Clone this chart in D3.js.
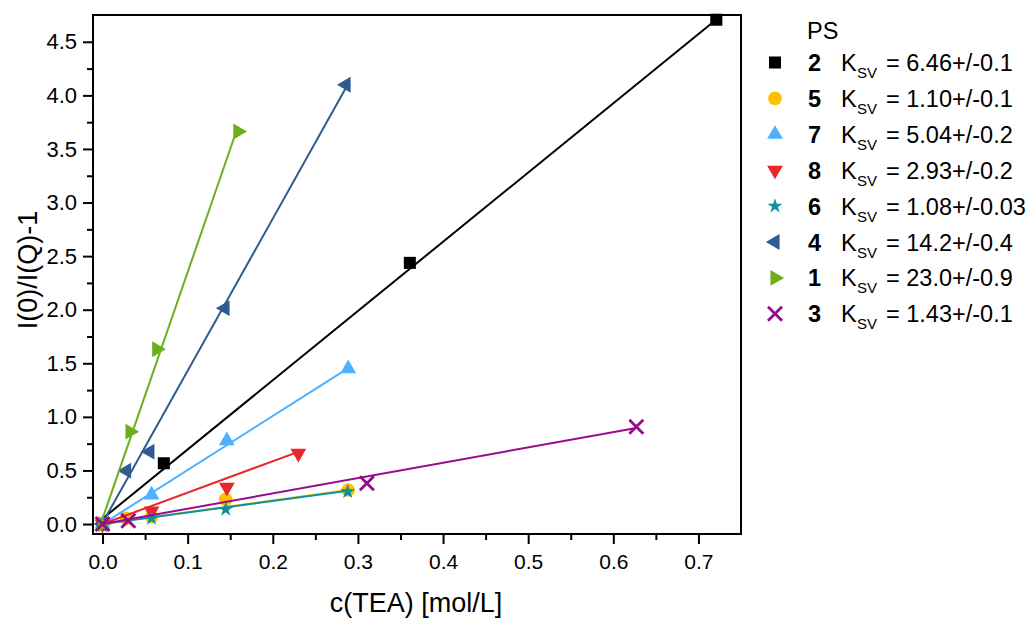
<!DOCTYPE html>
<html>
<head>
<meta charset="utf-8">
<script src="https://cdn.jsdelivr.net/npm/d3@7"></script>
<style>
  body { margin: 0; background: #fff; }
  svg { font-family: "Liberation Sans", Arial, Helvetica, sans-serif; }
</style>
</head>
<body>
<svg id="chart" width="1035" height="619"></svg>
<script>
// Stern–Volmer data: I(0)/I(Q)-1 against TEA concentration for each PS
const seriesIds   = ["2", "5", "7", "8", "6", "4", "1", "3"];
const ksvValues   = ["6.46", "1.10", "5.04", "2.93", "1.08", "14.2", "23.0", "1.43"];
const ksvErrors   = ["0.1", "0.1", "0.2", "0.2", "0.03", "0.4", "0.9", "0.1"];
const intercepts  = [0.05, 0, 0, 0, 0, 0.01, 0.05, 0];

const conc2 = [0, 0.072, 0.361, 0.721];
const ratio2 = [0, 0.567, 2.437, 4.706];
const conc5 = [0, 0.028, 0.0576, 0.1447, 0.2886];
const ratio5 = [0, 0.053, 0.068, 0.230, 0.317];
const conc7 = [0, 0.0576, 0.146, 0.2886];
const ratio7 = [0, 0.271, 0.778, 1.450];
const conc8 = [0, 0.0576, 0.146, 0.230];
const ratio8 = [0, 0.121, 0.342, 0.660];
const conc6 = [0, 0.0576, 0.1447, 0.288];
const ratio6 = [0, 0.053, 0.137, 0.302];
const conc4 = [0, 0.0282, 0.0556, 0.1439, 0.2861];
const ratio4 = [0, 0.498, 0.675, 2.014, 4.099];
const conc1 = [0, 0.0323, 0.0637, 0.159];
const ratio1 = [0, 0.862, 1.631, 3.663];
const conc3 = [0, 0.0303, 0.3105, 0.627];
const ratio3 = [0, 0.031, 0.380, 0.908];

const concentrations = [conc2, conc5, conc7, conc8, conc6, conc4, conc1, conc3];
const ratios = [ratio2, ratio5, ratio7, ratio8, ratio6, ratio4, ratio1, ratio3];

const colors = ["#000000", "#FFC000", "#4DB1FF", "#E8262B", "#10909E", "#2F5B91", "#6CAF1C", "#990A8E"];
const shapes = ["square", "circle", "up", "down", "star", "left", "right", "x"];

const xTicks = [0, 0.1, 0.2, 0.3, 0.4, 0.5, 0.6, 0.7];
const xMinor = [0.05, 0.15, 0.25, 0.35, 0.45, 0.55, 0.65];
const yTicks = [0, 0.5, 1.0, 1.5, 2.0, 2.5, 3.0, 3.5, 4.0, 4.5];
const yMinor = [0.25, 0.75, 1.25, 1.75, 2.25, 2.75, 3.25, 3.75, 4.25];

const svg = d3.select("#chart");
const L = 93, R = 741, T = 15, B = 534;

const x = d3.scaleLinear().domain([-0.0112, 0.75]).range([L, R]);
const y = d3.scaleLinear().domain([-0.093, 4.75]).range([B, T]);

// axes
const fmt = d3.format(".1f");
const gx = svg.append("g").attr("transform", `translate(0,${B})`)
  .call(d3.axisBottom(x).tickValues(xTicks).tickFormat(fmt).tickSize(10).tickSizeOuter(0).tickPadding(10));
const gxm = svg.append("g").attr("transform", `translate(0,${B})`)
  .call(d3.axisBottom(x).tickValues(xMinor).tickFormat("").tickSize(6).tickSizeOuter(0));
const gy = svg.append("g").attr("transform", `translate(${L},0)`)
  .call(d3.axisLeft(y).tickValues(yTicks).tickFormat(fmt).tickSize(10).tickSizeOuter(0).tickPadding(6));
const gym = svg.append("g").attr("transform", `translate(${L},0)`)
  .call(d3.axisLeft(y).tickValues(yMinor).tickFormat("").tickSize(6).tickSizeOuter(0));

[gx, gxm, gy, gym].forEach(g => {
  g.select(".domain").remove();
  g.selectAll(".tick line").attr("stroke", "#000").attr("stroke-width", 2);
  g.selectAll(".tick text").attr("fill", "#000")
    .style("font-family", "'Liberation Sans', Arial, sans-serif");
});
gx.selectAll(".tick text").style("font-size", "21px");
gy.selectAll(".tick text").style("font-size", "22px");

// frame
svg.append("rect")
  .attr("x", L).attr("y", T).attr("width", R - L).attr("height", B - T)
  .attr("fill", "none").attr("stroke", "#000").attr("stroke-width", 2);

// axis titles
svg.append("text")
  .attr("x", 416).attr("y", 612)
  .attr("text-anchor", "middle")
  .style("font-size", "27px")
  .text("c(TEA) [mol/L]");

svg.append("text")
  .attr("transform", "translate(37,270) rotate(-90)")
  .attr("text-anchor", "middle")
  .style("font-size", "27px")
  .text("I(0)/I(Q)-1");

// marker paths
function markerPath(shape) {
  switch (shape) {
    case "square": return d3.symbol(d3.symbolSquare, 145)();
    case "circle": return d3.symbol(d3.symbolCircle, 145)();
    case "star":   return d3.symbol(d3.symbolStar, 70)();
    case "x":      return "M-7,-7L7,7M-7,7L7,-7";
    default:       return d3.symbol(d3.symbolTriangle, 108)();
  }
}
const rotation = { up: 0, down: 180, left: -90, right: 90 };

function drawMarker(g, shape, color, cx, cy) {
  const rot = rotation[shape] || 0;
  const p = g.append("path")
    .attr("d", markerPath(shape))
    .attr("transform", `translate(${cx},${cy}) rotate(${rot})`);
  if (shape === "x") {
    p.attr("fill", "none").attr("stroke", color).attr("stroke-width", 2.8);
  } else {
    p.attr("fill", color);
  }
}

const plot = svg.append("g");

seriesIds.forEach((id, i) => {
  const k = +ksvValues[i];
  const b = intercepts[i];
  const xs = concentrations[i];
  const ys = ratios[i];
  const xEnd = d3.max(xs);
  const fit = [[0, b], [xEnd, b + k * xEnd]];

  plot.append("path")
    .datum(fit)
    .attr("d", d3.line().x(d => x(d[0])).y(d => y(d[1])))
    .attr("fill", "none")
    .attr("stroke", colors[i])
    .attr("stroke-width", 2);

  xs.forEach((c, j) => drawMarker(plot, shapes[i], colors[i], x(c), y(ys[j])));
});

// legend
const legend = svg.append("g");
legend.append("text")
  .attr("x", 807).attr("y", 39)
  .style("font-size", "23.5px")
  .text("PS");

const rowY0 = 62.5, rowStep = 35.9;
seriesIds.forEach((id, i) => {
  const cy = rowY0 + i * rowStep;
  drawMarker(legend, shapes[i], colors[i], 775, cy);
  const base = cy + 8.5;
  legend.append("text").attr("x", 808).attr("y", base)
    .style("font-size", "23.5px").style("font-weight", "bold").text(id);
  legend.append("text").attr("x", 841).attr("y", base)
    .style("font-size", "23.5px").text("K");
  legend.append("text").attr("x", 857).attr("y", base + 7)
    .style("font-size", "15px").text("SV");
  legend.append("text").attr("x", 886).attr("y", base)
    .style("font-size", "23.5px").text(`= ${ksvValues[i]}+/-${ksvErrors[i]}`);
});
</script>
</body>
</html>
